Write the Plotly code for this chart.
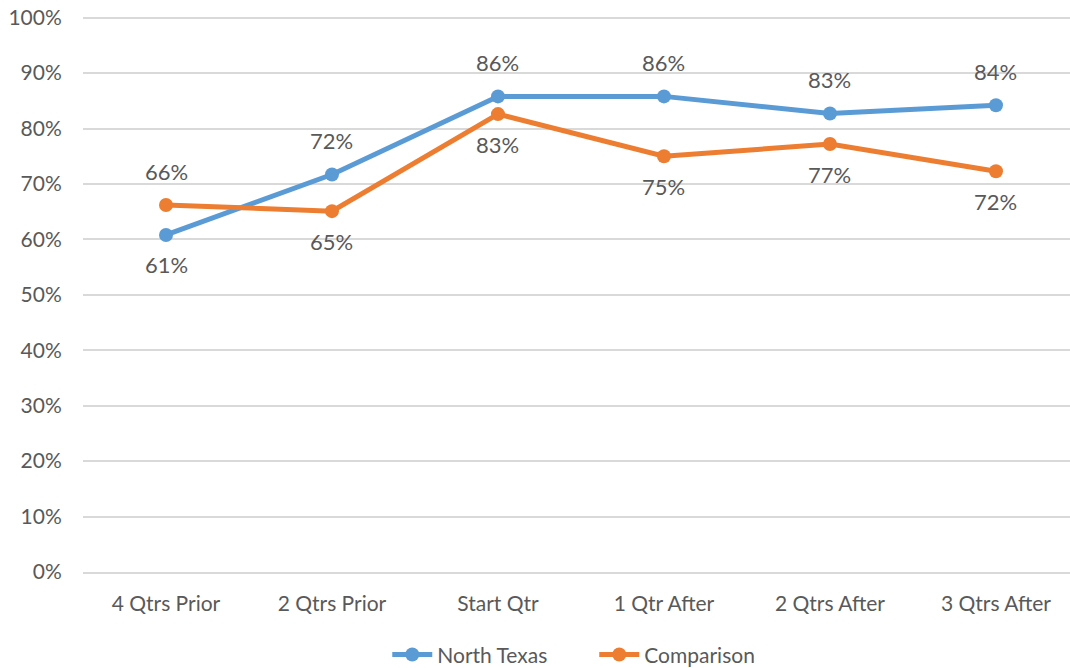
import plotly.graph_objects as go

categories = ["4 Qtrs Prior", "2 Qtrs Prior", "Start Qtr", "1 Qtr After", "2 Qtrs After", "3 Qtrs After"]
north_texas = [0.608, 0.717, 0.858, 0.858, 0.827, 0.842]
comparison = [0.662, 0.651, 0.826, 0.750, 0.772, 0.723]
# label placement: +1 above, -1 below
north_texas_label_side = [-1, 1, 1, 1, 1, 1]
comparison_label_side = [1, -1, -1, -1, -1, -1]
y_ticks = [i / 10 for i in range(11)]

BLUE = "#5B9BD5"
ORANGE = "#ED7D31"
TEXT = "#595959"
GRID = "#D9D9D9"
FONT = "Lato, 'Open Sans', sans-serif"

fig = go.Figure()
idx = list(range(len(categories)))
fig.add_trace(go.Scatter(x=idx, y=north_texas, mode="lines+markers", name="North Texas",
                         line=dict(color=BLUE, width=5), marker=dict(color=BLUE, size=14),
                         cliponaxis=False))
fig.add_trace(go.Scatter(x=idx, y=comparison, mode="lines+markers", name="Comparison",
                         line=dict(color=ORANGE, width=5), marker=dict(color=ORANGE, size=14),
                         cliponaxis=False))

annotations = []
for vals, sides in ((north_texas, north_texas_label_side), (comparison, comparison_label_side)):
    for i, (v, s) in enumerate(zip(vals, sides)):
        annotations.append(dict(x=i, y=v, xref="x", yref="y", text=f"{round(v*100)}%",
                                showarrow=False, yshift=34 if s > 0 else -30,
                                font=dict(family=FONT, size=22, color=TEXT)))

fig.update_layout(
    width=1070, height=668,
    margin=dict(l=83, r=0, t=16, b=96, autoexpand=False),
    paper_bgcolor="white", plot_bgcolor="white",
    font=dict(family=FONT, size=20, color=TEXT),
    showlegend=True,
    legend=dict(orientation="h", x=0.518, xanchor="center", y=-0.149, yanchor="middle",
                font=dict(family=FONT, size=21, color=TEXT), itemwidth=40,
                entrywidth=152),
    annotations=annotations,
    xaxis=dict(tickmode="array", tickvals=idx, ticktext=categories, range=[-0.5, 5.446],
               showgrid=False, zeroline=False, showline=True, linecolor=GRID, linewidth=1.5,
               ticks="outside", ticklen=12, tickcolor="rgba(0,0,0,0)", automargin=False,
               tickfont=dict(family=FONT, size=21, color=TEXT)),
    yaxis=dict(range=[0, 1.003], tickmode="array", tickvals=y_ticks, tickformat=".0%",
               showgrid=True, gridcolor=GRID, gridwidth=1.5, zeroline=False, showline=False,
               ticks="outside", ticklen=16, tickcolor="rgba(0,0,0,0)", automargin=False,
               tickfont=dict(family=FONT, size=21, color=TEXT)),
)

fig.write_html("out.html", config={"displayModeBar": False},
               post_script="document.body.style.margin='0';document.body.style.overflow='hidden';")
